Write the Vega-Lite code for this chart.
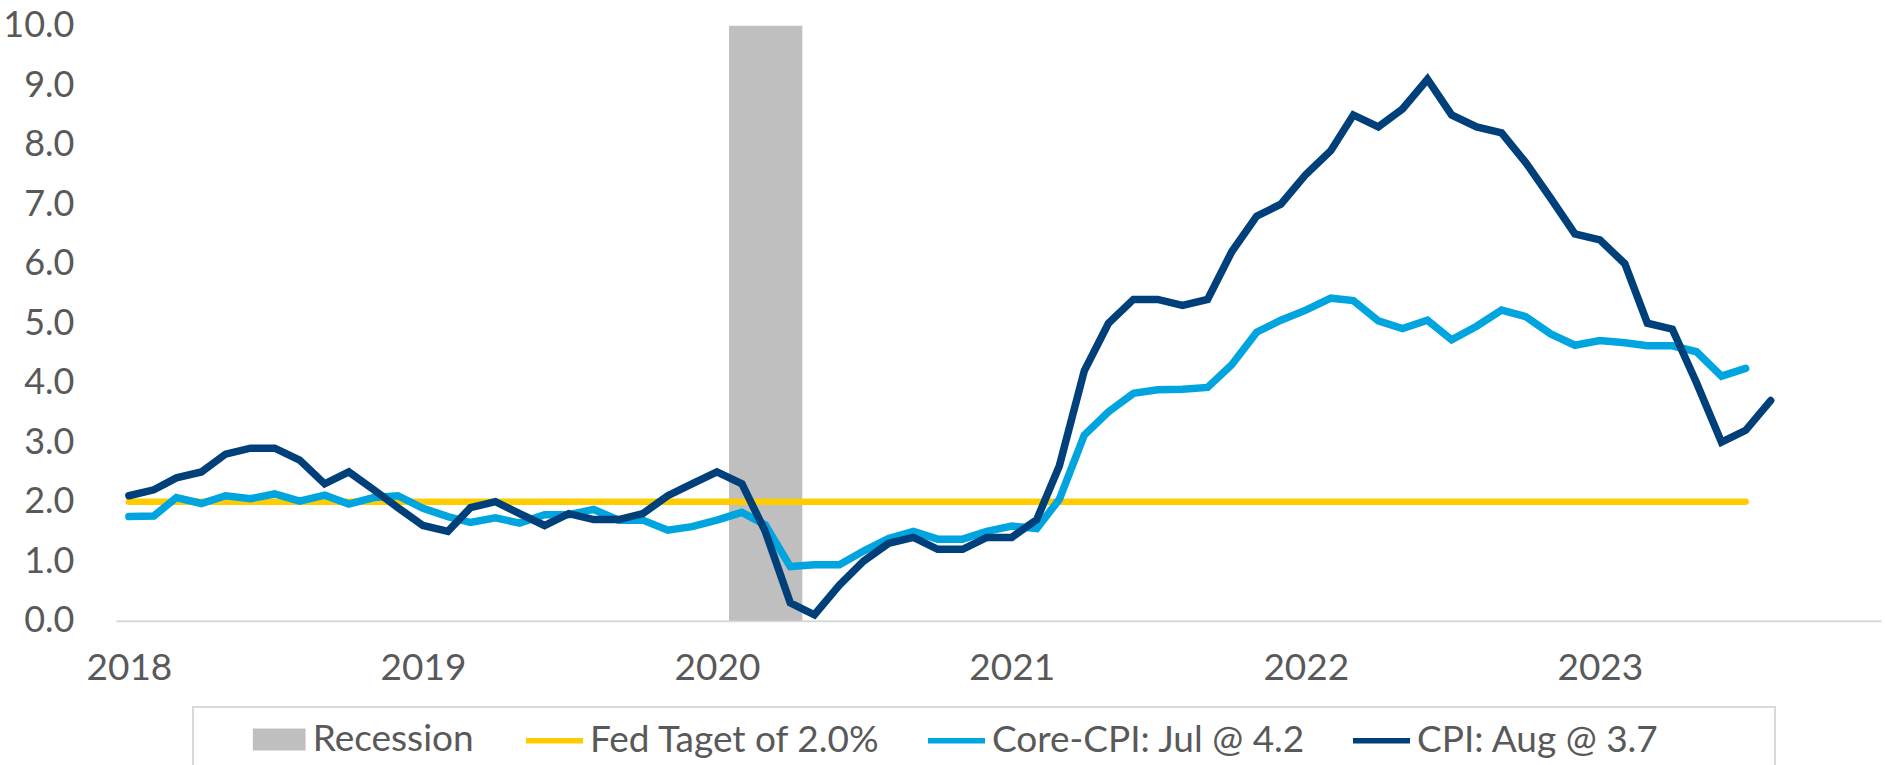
{
  "$schema": "https://vega.github.io/schema/vega-lite/v6.json",
  "autosize": {"type": "none"},
  "width": 1765,
  "height": 595,
  "padding": {"left": 116, "top": 25.7, "right": 4, "bottom": 144.3},
  "background": "white",
  "config": {
    "view": {"stroke": null},
    "font": "Lato",
    "legend": {"strokeWidth": 2}
  },
  "datasets": {
    "recession": [{"start": "2020-01-16", "end": "2020-04-16", "top": 10, "bottom": 0}],
    "fed": [{"date": "2018-01-01", "value": 2.0}, {"date": "2023-07-01", "value": 2.0}],
    "core": [
      {"date": "2018-01-01", "value": 1.75}, {"date": "2018-02-01", "value": 1.76}, {"date": "2018-03-01", "value": 2.07}, {"date": "2018-04-01", "value": 1.97},
      {"date": "2018-05-01", "value": 2.10}, {"date": "2018-06-01", "value": 2.05}, {"date": "2018-07-01", "value": 2.13}, {"date": "2018-08-01", "value": 2.01},
      {"date": "2018-09-01", "value": 2.11}, {"date": "2018-10-01", "value": 1.96}, {"date": "2018-11-01", "value": 2.07}, {"date": "2018-12-01", "value": 2.10},
      {"date": "2019-01-01", "value": 1.89}, {"date": "2019-02-01", "value": 1.75}, {"date": "2019-03-01", "value": 1.65}, {"date": "2019-04-01", "value": 1.73},
      {"date": "2019-05-01", "value": 1.64}, {"date": "2019-06-01", "value": 1.78}, {"date": "2019-07-01", "value": 1.78}, {"date": "2019-08-01", "value": 1.87},
      {"date": "2019-09-01", "value": 1.69}, {"date": "2019-10-01", "value": 1.69}, {"date": "2019-11-01", "value": 1.52}, {"date": "2019-12-01", "value": 1.58},
      {"date": "2020-01-01", "value": 1.69}, {"date": "2020-02-01", "value": 1.82}, {"date": "2020-03-01", "value": 1.61}, {"date": "2020-04-01", "value": 0.91},
      {"date": "2020-05-01", "value": 0.94}, {"date": "2020-06-01", "value": 0.94}, {"date": "2020-07-01", "value": 1.17}, {"date": "2020-08-01", "value": 1.38},
      {"date": "2020-09-01", "value": 1.50}, {"date": "2020-10-01", "value": 1.37}, {"date": "2020-11-01", "value": 1.37}, {"date": "2020-12-01", "value": 1.50},
      {"date": "2021-01-01", "value": 1.59}, {"date": "2021-02-01", "value": 1.55}, {"date": "2021-03-01", "value": 2.04}, {"date": "2021-04-01", "value": 3.12},
      {"date": "2021-05-01", "value": 3.51}, {"date": "2021-06-01", "value": 3.82}, {"date": "2021-07-01", "value": 3.88}, {"date": "2021-08-01", "value": 3.89},
      {"date": "2021-09-01", "value": 3.92}, {"date": "2021-10-01", "value": 4.30}, {"date": "2021-11-01", "value": 4.85}, {"date": "2021-12-01", "value": 5.05},
      {"date": "2022-01-01", "value": 5.22}, {"date": "2022-02-01", "value": 5.42}, {"date": "2022-03-01", "value": 5.38}, {"date": "2022-04-01", "value": 5.04},
      {"date": "2022-05-01", "value": 4.91}, {"date": "2022-06-01", "value": 5.05}, {"date": "2022-07-01", "value": 4.72}, {"date": "2022-08-01", "value": 4.95},
      {"date": "2022-09-01", "value": 5.22}, {"date": "2022-10-01", "value": 5.11}, {"date": "2022-11-01", "value": 4.82}, {"date": "2022-12-01", "value": 4.63},
      {"date": "2023-01-01", "value": 4.71}, {"date": "2023-02-01", "value": 4.67}, {"date": "2023-03-01", "value": 4.62}, {"date": "2023-04-01", "value": 4.62},
      {"date": "2023-05-01", "value": 4.52}, {"date": "2023-06-01", "value": 4.11}, {"date": "2023-07-01", "value": 4.24}
    ],
    "cpi": [
      {"date": "2018-01-01", "value": 2.1}, {"date": "2018-02-01", "value": 2.2}, {"date": "2018-03-01", "value": 2.4}, {"date": "2018-04-01", "value": 2.5},
      {"date": "2018-05-01", "value": 2.8}, {"date": "2018-06-01", "value": 2.9}, {"date": "2018-07-01", "value": 2.9}, {"date": "2018-08-01", "value": 2.7},
      {"date": "2018-09-01", "value": 2.3}, {"date": "2018-10-01", "value": 2.5}, {"date": "2018-11-01", "value": 2.2}, {"date": "2018-12-01", "value": 1.9},
      {"date": "2019-01-01", "value": 1.6}, {"date": "2019-02-01", "value": 1.5}, {"date": "2019-03-01", "value": 1.9}, {"date": "2019-04-01", "value": 2.0},
      {"date": "2019-05-01", "value": 1.8}, {"date": "2019-06-01", "value": 1.6}, {"date": "2019-07-01", "value": 1.8}, {"date": "2019-08-01", "value": 1.7},
      {"date": "2019-09-01", "value": 1.7}, {"date": "2019-10-01", "value": 1.8}, {"date": "2019-11-01", "value": 2.1}, {"date": "2019-12-01", "value": 2.3},
      {"date": "2020-01-01", "value": 2.5}, {"date": "2020-02-01", "value": 2.3}, {"date": "2020-03-01", "value": 1.5}, {"date": "2020-04-01", "value": 0.3},
      {"date": "2020-05-01", "value": 0.1}, {"date": "2020-06-01", "value": 0.6}, {"date": "2020-07-01", "value": 1.0}, {"date": "2020-08-01", "value": 1.3},
      {"date": "2020-09-01", "value": 1.4}, {"date": "2020-10-01", "value": 1.2}, {"date": "2020-11-01", "value": 1.2}, {"date": "2020-12-01", "value": 1.4},
      {"date": "2021-01-01", "value": 1.4}, {"date": "2021-02-01", "value": 1.7}, {"date": "2021-03-01", "value": 2.6}, {"date": "2021-04-01", "value": 4.2},
      {"date": "2021-05-01", "value": 5.0}, {"date": "2021-06-01", "value": 5.4}, {"date": "2021-07-01", "value": 5.4}, {"date": "2021-08-01", "value": 5.3},
      {"date": "2021-09-01", "value": 5.4}, {"date": "2021-10-01", "value": 6.2}, {"date": "2021-11-01", "value": 6.8}, {"date": "2021-12-01", "value": 7.0},
      {"date": "2022-01-01", "value": 7.5}, {"date": "2022-02-01", "value": 7.9}, {"date": "2022-03-01", "value": 8.5}, {"date": "2022-04-01", "value": 8.3},
      {"date": "2022-05-01", "value": 8.6}, {"date": "2022-06-01", "value": 9.1}, {"date": "2022-07-01", "value": 8.5}, {"date": "2022-08-01", "value": 8.3},
      {"date": "2022-09-01", "value": 8.2}, {"date": "2022-10-01", "value": 7.7}, {"date": "2022-11-01", "value": 7.1}, {"date": "2022-12-01", "value": 6.5},
      {"date": "2023-01-01", "value": 6.4}, {"date": "2023-02-01", "value": 6.0}, {"date": "2023-03-01", "value": 5.0}, {"date": "2023-04-01", "value": 4.9},
      {"date": "2023-05-01", "value": 4.0}, {"date": "2023-06-01", "value": 3.0}, {"date": "2023-07-01", "value": 3.2}, {"date": "2023-08-01", "value": 3.7}
    ]
  },
  "resolve": {"scale": {"color": "independent"}, "legend": {"color": "independent"}},
  "layer": [
    {
      "data": {"name": "recession"},
      "mark": {"type": "rect", "opacity": 1},
      "encoding": {
        "x": {
          "field": "start", "type": "temporal",
          "scale": {"type": "utc", "domain": [{"year": 2017, "month": 12, "date": 16, "utc": true}, {"year": 2023, "month": 12, "date": 16, "utc": true}]},
          "axis": {
            "title": null,
            "values": [
              {"year": 2018, "month": 1, "date": 1, "utc": true}, {"year": 2019, "month": 1, "date": 1, "utc": true},
              {"year": 2020, "month": 1, "date": 1, "utc": true}, {"year": 2021, "month": 1, "date": 1, "utc": true},
              {"year": 2022, "month": 1, "date": 1, "utc": true}, {"year": 2023, "month": 1, "date": 1, "utc": true}
            ],
            "format": "%Y",
            "grid": false, "ticks": false,
            "domainColor": "#D9D9D9", "domainWidth": 2,
            "labelFont": "Lato", "labelFontSize": 37, "labelColor": "#595959",
            "labelPadding": 30, "labelFlush": false, "labelOverlap": false
          }
        },
        "x2": {"field": "end"},
        "y": {
          "field": "top", "type": "quantitative",
          "scale": {"domain": [0, 10], "nice": false, "zero": true},
          "axis": {
            "title": null,
            "values": [0, 1, 2, 3, 4, 5, 6, 7, 8, 9, 10],
            "format": ".1f",
            "grid": false, "ticks": false, "domain": false,
            "labelFont": "Lato", "labelFontSize": 36, "labelColor": "#595959",
            "labelPadding": 42, "labelFlush": false, "labelOverlap": false
          }
        },
        "y2": {"field": "bottom"},
        "color": {
          "datum": "Recession",
          "scale": {"domain": ["Recession"], "range": ["#BFBFBF"]},
          "legend": {
            "orient": "none",
            "legendX": 135.7,
            "legendY": 686.3,
            "title": null,
            "labelFont": "Lato",
            "labelFontSize": 37,
            "labelColor": "#595959",
            "labelLimit": 0,
            "symbolType": "M-1,-0.4175H1V0.4175H-1Z",
            "symbolSize": 2777,
            "symbolOpacity": 1,
            "labelOffset": 6,
            "padding": 0
          }
        }
      }
    },
    {
      "layer": [
        {
          "data": {"name": "fed"},
          "mark": {"type": "line", "strokeWidth": 6.5, "strokeCap": "round"},
          "encoding": {
            "x": {"field": "date", "type": "temporal"},
            "y": {"field": "value", "type": "quantitative"},
            "color": {
              "datum": "Fed Taget of 2.0%",
              "scale": {
                "domain": ["Fed Taget of 2.0%", "Core-CPI: Jul @ 4.2", "CPI: Aug @ 3.7"],
                "range": ["#FFCC00", "#00A5E0", "#00407A"]
              },
              "legend": {
                "orient": "none",
                "legendX": 77,
                "legendY": 681.3,
                "direction": "horizontal",
                "gridAlign": "each",
                "title": "\u00a0",
                "titleOrient": "left",
                "titleAnchor": "start",
                "titleBaseline": "top",
                "titleFont": "Lato",
                "titleFontSize": 70,
                "titlePadding": 328,
                "titleLimit": 1000,
                "labelFont": "Lato",
                "labelFontSize": 37,
                "labelColor": "#595959",
                "labelLimit": 0,
                "labelExpr": "datum.label === 'CPI: Aug @ 3.7' ? datum.label + '\u00a0\u00a0\u00a0\u00a0\u00a0\u00a0\u00a0\u00a0\u00a0\u00a0\u00a0\u00a0\u200b' : datum.label",
                "symbolType": "stroke",
                "symbolSize": 3249,
                "symbolStrokeWidth": 5.5,
                "symbolOpacity": 1,
                "labelOffset": 4,
                "columnPadding": 36,
                "padding": 2,
                "strokeColor": "#D9D9D9"
              }
            }
          }
        },
        {
          "data": {"name": "core"},
          "mark": {"type": "line", "strokeWidth": 7.5, "strokeCap": "round"},
          "encoding": {
            "x": {"field": "date", "type": "temporal"},
            "y": {"field": "value", "type": "quantitative"},
            "color": {"datum": "Core-CPI: Jul @ 4.2"}
          }
        },
        {
          "data": {"name": "cpi"},
          "mark": {"type": "line", "strokeWidth": 7.5, "strokeCap": "round"},
          "encoding": {
            "x": {"field": "date", "type": "temporal"},
            "y": {"field": "value", "type": "quantitative"},
            "color": {"datum": "CPI: Aug @ 3.7"}
          }
        }
      ]
    }
  ]
}
